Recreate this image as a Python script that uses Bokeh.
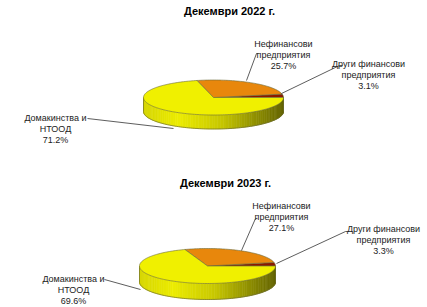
import numpy as np
from bokeh.plotting import figure
from bokeh.models import Range1d
from bokeh.core.properties import value
from bokeh.embed import file_html
from bokeh.resources import INLINE

titles = ["Декември 2022 г.", "Декември 2023 г."]
categories = ["Други финансови\nпредприятия", "Нефинансови\nпредприятия", "Домакинства и\nНТООД"]
values_2022 = [3.1, 25.7, 71.2]
values_2023 = [3.3, 27.1, 69.6]
slice_colors = ["#8C1800", "#E8870C", "#F0F000"]

FONT = value("Liberation Sans")

p = figure(width=427, height=307, output_backend="svg", toolbar_location=None,
           x_range=Range1d(0, 427), y_range=Range1d(307, 0), min_border=0)
p.axis.visible = False
p.grid.visible = False
p.outline_line_color = None
p.background_fill_color = "white"
p.border_fill_color = "white"


def side_color(s):
    # s: 0 at left edge, 1 at right edge
    stops = [(0.0, (214, 214, 0)), (0.25, (236, 236, 0)), (0.55, (200, 200, 0)), (1.0, (100, 100, 0))]
    for (s0, c0), (s1, c1) in zip(stops[:-1], stops[1:]):
        if s <= s1:
            f = (s - s0) / (s1 - s0)
            c = [int(round(a + (b - a) * f)) for a, b in zip(c0, c1)]
            return "#%02x%02x%02x" % tuple(c)
    return "#%02x%02x%02x" % stops[-1][1]


def draw_pie(vals, cx, cy, rx, ry, depth, t0=0.0):
    # side wall (front half) with gradient strips
    ts = np.linspace(np.pi, 2 * np.pi, 80)
    xs, ys, cs = [], [], []
    for a, b in zip(ts[:-1], ts[1:]):
        xa, xb = cx + rx * np.cos(a), cx + rx * np.cos(b)
        ya, yb = cy - ry * np.sin(a), cy - ry * np.sin(b)
        xs.append([xa, xb, xb, xa])
        ys.append([ya, yb, yb + depth, ya + depth])
        s = (np.cos((a + b) / 2) + 1) / 2
        cs.append(side_color(s))
    p.patches(xs, ys, fill_color=cs, line_color=cs, line_width=0.6)
    # side outline
    tt = np.linspace(np.pi, 2 * np.pi, 100)
    p.line(cx + rx * np.cos(tt), cy - ry * np.sin(tt) + depth, line_color="#6b6b30", line_width=0.7)
    p.line([cx - rx, cx - rx], [cy, cy + depth], line_color="#6b6b30", line_width=0.7)
    p.line([cx + rx, cx + rx], [cy, cy + depth], line_color="#6b6b30", line_width=0.7)
    # top face slices
    total = sum(vals)
    start = t0
    fx, fy = [], []
    for v in vals:
        ang = 2 * np.pi * v / total
        t = np.linspace(start, start + ang, max(4, int(ang * 40)))
        fx.append(np.concatenate([[cx], cx + rx * np.cos(t)]))
        fy.append(np.concatenate([[cy], cy - ry * np.sin(t)]))
        start += ang
    p.patches(fx, fy, fill_color=slice_colors, line_color="#6a6a3a", line_width=0.6)


draw_pie(values_2022, 213, 97, 70, 17.5, 14)
draw_pie(values_2023, 207, 265.5, 68, 17.5, 16)

# titles
p.text(x=[229, 225], y=[10, 182], text=titles, text_font=FONT, text_font_size="11px",
       text_font_style="bold", text_align="center", text_baseline="middle", text_color="#000000")

# labels
lab_x = [368, 283, 55, 383, 281, 73]
lab_y = [58, 38, 112, 223, 200, 273]
lab_t = [f"{c}\n{v:.1f}%" for c, v in zip(categories, values_2022)] + \
        [f"{c}\n{v:.1f}%" for c, v in zip(categories, values_2023)]
p.text(x=lab_x, y=lab_y, text=lab_t, text_font=FONT, text_font_size="9px",
       text_align="center", text_baseline="top", text_line_height=1.1, text_color="#222222")

# leader lines
lx = [[342, 339, 281], [258, 256, 246], [87, 173],
      [348, 345, 276], [257, 255, 241], [104, 140]]
ly = [[65, 65, 93], [53, 53, 80], [118, 128],
      [231, 231, 263], [218, 218, 250], [279, 289]]
p.multi_line(lx, ly, line_color="#333333", line_width=0.8)

open("out.html", "w").write(file_html(p, INLINE))
